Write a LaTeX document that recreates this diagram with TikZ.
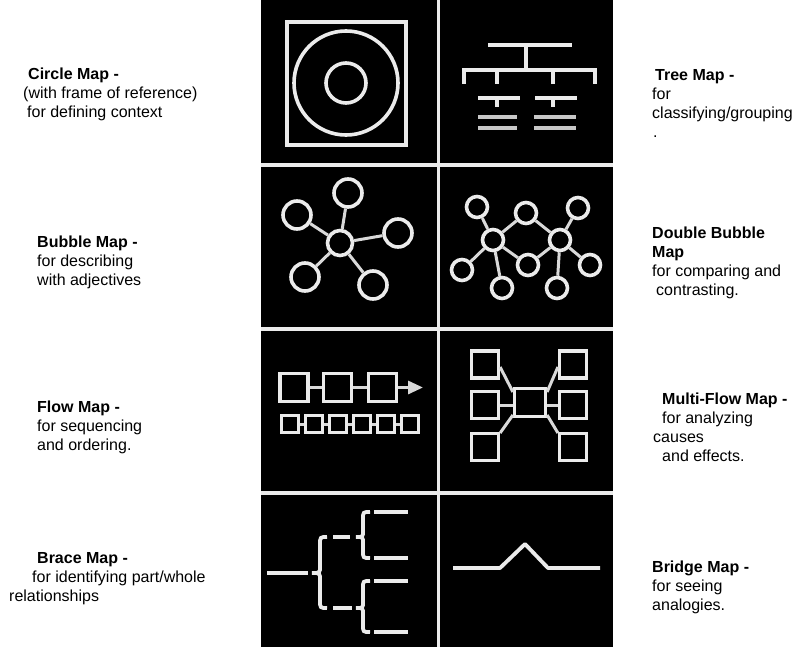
\documentclass[tikz,border=0pt]{standalone}
\usepackage{fontspec}
\setmainfont{Liberation Sans}
\usetikzlibrary{positioning,arrows.meta}

\begin{document}
\begin{tikzpicture}[x=1pt, y=-1pt,
  font=\fontsize{16}{19}\selectfont,
  wl/.style={draw=white!92!black, line width=3.8pt},
  thin/.style={draw=white!85!black, line width=3pt},
  grey/.style={draw=white!78!black, line width=3.4pt},
  ring/.style={circle, draw=white!92!black, line width=3.6pt, inner sep=0pt},
  bub/.style={ring, minimum size=28pt},
  hub/.style={ring, minimum size=25pt},
  dbub/.style={ring, minimum size=21pt},
  box/.style={rectangle, draw=white!92!black, line width=3.2pt, inner sep=0pt},
  bigbox/.style={box, minimum size=28pt},
  smallbox/.style={box, line width=2.8pt, minimum size=17pt},
  mbox/.style={box, minimum size=27pt},
  lbl/.style={anchor=base west, align=left, inner sep=0pt}
]
\useasboundingbox (0,0) rectangle (800,647);
\fill[black] (261,0) rectangle (613,647);
% dividers
\draw[wl] (438.5,0) -- (438.5,647);
\foreach \yy in {165,329,493}
  \draw[wl] (261,\yy) -- (613,\yy);

% circle map
\node[box, line width=3.8pt, minimum width=119pt, minimum height=123pt] (frame) at (346.5,83.5) {};
\node[ring, minimum size=104pt] (ctx) at (346,83) {};
\node[ring, minimum size=40pt] (topic) at (346,83) {};

% tree map
\draw[wl] (488,45) -- (572,45);
\draw[wl] (526,45) -- (526,70);
\draw[wl] (464,84) -- (464,70) -- (595,70) -- (595,84);
\draw[wl] (497,70) -- (497,84);
\draw[wl] (553,70) -- (553,84);
\draw[wl] (478,98) -- (520,98);
\draw[wl] (497,98) -- (497,107);
\draw[wl] (535,98) -- (577,98);
\draw[wl] (553,98) -- (553,107);
\foreach \yy in {117,128} {
  \draw[grey] (478,\yy) -- (517,\yy);
  \draw[grey] (534,\yy) -- (576,\yy);
}

% bubble map
\node[hub] (adj) at (340,243) {};
\node[bub] (b1) at (348,193) {};
\node[bub] (b2) at (297,215) {};
\node[bub] (b3) at (398,233) {};
\node[bub] (b4) at (305,277) {};
\node[bub] (b5) at (373,285) {};
\foreach \b in {b1,b2,b3,b4,b5}
  \draw[thin] (adj) -- (\b);

% double bubble map
\node[dbub] (lc) at (493,240) {};
\node[dbub] (rc) at (560,240) {};
\node[dbub] (tm) at (526,213) {};
\node[dbub] (bm) at (528,265) {};
\node[dbub] (l1) at (477,207) {};
\node[dbub] (l2) at (462,270) {};
\node[dbub] (l3) at (502,288) {};
\node[dbub] (r1) at (578,208) {};
\node[dbub] (r2) at (590,265) {};
\node[dbub] (r3) at (557,288) {};
\foreach \b in {tm,bm,l1,l2,l3}
  \draw[thin] (lc) -- (\b);
\foreach \b in {tm,bm,r1,r2,r3}
  \draw[thin] (rc) -- (\b);

% flow map
\node[bigbox] (f1) at (294,387.5) {};
\node[bigbox] (f2) at (337.5,387.5) {};
\node[bigbox] (f3) at (382.5,387.5) {};
\coordinate (ftip) at (423,387.5);
\draw[thin] (f1) -- (f2);
\draw[thin] (f2) -- (f3);
\draw[thin, -{Triangle[length=15pt,width=13pt]}] (f3) -- (ftip);
\foreach \i in {0,...,5}
  \node[smallbox] (s\i) at (290+24*\i,424) {};
\foreach \i [evaluate=\i as \j using int(\i+1)] in {0,...,4}
  \draw[thin] (s\i) -- (s\j);

% multi-flow map
\node[box, minimum width=31pt, minimum height=28pt] (ev) at (530,402.5) {};
\node[mbox] (c1) at (485,364.5) {};
\node[mbox] (c2) at (485,405) {};
\node[mbox] (c3) at (485,447) {};
\node[mbox] (e1) at (573,364.5) {};
\node[mbox] (e2) at (573,405) {};
\node[mbox] (e3) at (573,447) {};
\draw[thin] (c1.east |- 0,367) -- (ev.west |- 0,392);
\draw[thin] (c2) -- (ev.west |- c2);
\draw[thin] (c3.east |- 0,433) -- (ev.west |- 0,415);
\draw[thin] (e1.west |- 0,367) -- (ev.east |- 0,392);
\draw[thin] (e2) -- (ev.east |- e2);
\draw[thin] (e3.west |- 0,433) -- (ev.east |- 0,415);

% brace map
\coordinate (whole) at (267,573);
\draw[wl] (whole) -- (308,573);
\draw[wl] (327,537) .. controls (320,537) .. (320,545) -- (320,566)
  .. controls (320,573) .. (312,573) .. controls (320,573) .. (320,580)
  -- (320,600) .. controls (320,608) .. (327,608);
\draw[wl] (333,537) -- (350,537);
\draw[wl] (333,608) -- (352,608);
\draw[wl] (370,512) .. controls (363,512) .. (363,519) -- (363,531)
  .. controls (363,537) .. (356,537) .. controls (363,537) .. (363,543)
  -- (363,551) .. controls (363,558) .. (370,558);
\draw[wl] (370,581) .. controls (363,581) .. (363,588) -- (363,602)
  .. controls (363,608) .. (356,608) .. controls (363,608) .. (363,614)
  -- (363,625) .. controls (363,632) .. (370,632);
\foreach \yy in {512,558,581,632}
  \draw[wl] (374,\yy) -- (408,\yy);

% bridge map
\draw[wl, line join=round] (453,568) -- (500,568) -- (525,544) -- (548,568) -- (600,568);

% labels (anchored at the last baseline)
\node[lbl] (lcircle) at (23,118) {\hspace*{5pt}\textbf{Circle Map -}\\(with frame of reference)\\\hspace*{4pt}for defining context};
\node[lbl] (ltree) at (652,138) {\hspace*{3pt}\textbf{Tree Map -}\\for\\classifying/grouping\\\hspace*{1pt}.};
\node[lbl] (lbubble) at (37,285) {\textbf{Bubble Map -}\\for describing\\with adjectives};
\node[lbl] (ldouble) at (652,295) {\textbf{Double Bubble}\\\textbf{Map}\\for comparing and\\\hspace*{4pt}contrasting.};
\node[lbl] (lflow) at (37,450) {\textbf{Flow Map -}\\for sequencing\\and ordering.};
\node[lbl] (lmulti) at (653,461) {\hspace*{9pt}\textbf{Multi-Flow Map -}\\\hspace*{9pt}for analyzing\\causes\\\hspace*{9pt}and effects.};
\node[lbl] (lbrace) at (9,601) {\hspace*{28pt}\textbf{Brace Map -}\\\hspace*{23pt}for identifying part/whole\\relationships};
\node[lbl] (lbridge) at (652,610) {\textbf{Bridge Map -}\\for seeing\\analogies.};
\end{tikzpicture}
\end{document}
